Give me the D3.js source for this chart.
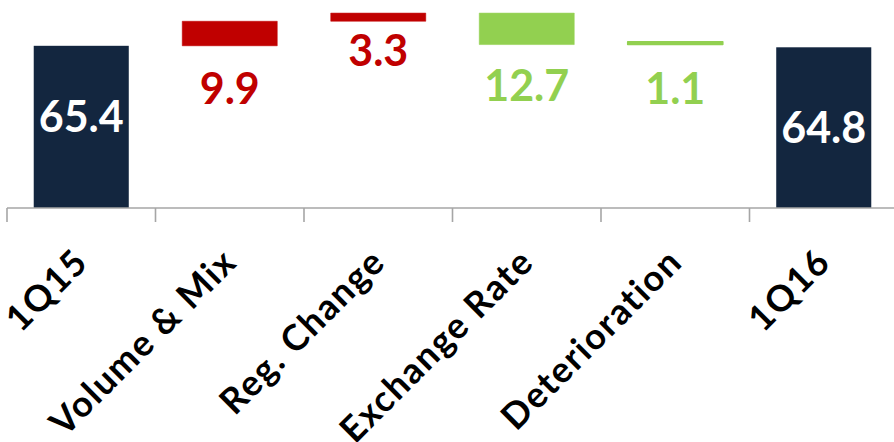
<!DOCTYPE html>
<html>
<head>
<meta charset="utf-8">
<script src="https://cdn.jsdelivr.net/npm/d3@7"></script>
<style>
  html, body { margin: 0; padding: 0; background: #fff; }
  svg { display: block; }
  text { font-family: Lato, "Open Sans", sans-serif; font-weight: 700; }
</style>
</head>
<body>
<svg id="chart" width="894" height="442"></svg>
<script>
// ---- data ----
const categories = ["1Q15", "Volume & Mix", "Reg. Change", "Exchange Rate", "Deterioration", "1Q16"];
const kinds      = ["total", "up", "up", "down", "down", "total"];
const bases      = [0, 65.4, 75.3, 65.9, 65.9, 0];      // invisible stacked base (as in original)
const deltas     = [65.4, 9.9, 3.3, 12.7, 1.1, 64.8];   // visible bar segment
const labels     = ["65.4", "9.9", "3.3", "12.7", "1.1", "64.8"];

// ---- styles ----
const colors = { total: "#13263f", up: "#c00000", down: "#92d050" };
const labelColors = { total: "#ffffff", up: "#c00000", down: "#92d050" };

const svg = d3.select("#chart");
const baseY = 208;

const x = d3.scaleBand().domain(categories).range([7, 898]).paddingInner(0.36).paddingOuter(0.18);
const y = d3.scaleLinear().domain([0, 80]).range([baseY, 9.6]);

// bars
svg.append("g").selectAll("rect").data(categories).join("rect")
  .attr("x", d => x(d))
  .attr("width", x.bandwidth())
  .attr("y", (d, i) => y(bases[i] + deltas[i]))
  .attr("height", (d, i) => y(bases[i]) - y(bases[i] + deltas[i]))
  .attr("fill", (d, i) => colors[kinds[i]])
  .attr("stroke", (d, i) => kinds[i] === "total" ? "none" : colors[kinds[i]])
  .attr("stroke-width", (d, i) => deltas[i] < 2 ? 1.6 : 0.5)
  .attr("stroke-linejoin", "round");

// axis
const step = x.step();
const axis = d3.axisBottom(x).tickSize(14).tickSizeOuter(0).tickFormat("");
const ax = svg.append("g").attr("transform", `translate(0,${baseY})`).call(axis);
ax.select(".domain").attr("stroke", "#a6a6a6").attr("stroke-width", 1.6)
  .attr("d", `M${x.range()[0]},0H${x.range()[1]}`);
ax.selectAll(".tick line").attr("stroke", "#a6a6a6").attr("stroke-width", 1.6)
  .attr("x1", -step / 2).attr("x2", -step / 2).attr("y1", 0);
ax.selectAll(".tick text").remove();

// category labels (rotated)
svg.append("g").selectAll("text").data(categories).join("text")
  .attr("transform", d => `translate(${x(d) + x.bandwidth() / 2 + 9},${baseY + 56}) rotate(-45)`)
  .attr("text-anchor", "end")
  .attr("font-size", 36)
  .attr("letter-spacing", 1.6)
  .attr("fill", "#000")
  .text(d => d);

// value labels
const labelOffset = { total: 0, up: 58, down: 56 };
const labelTweak = [-10, 0, -13, 0, 3, 0];
svg.append("g").selectAll("text").data(categories).join("text")
  .attr("x", d => x(d) + x.bandwidth() / 2)
  .attr("y", (d, i) => {
    if (kinds[i] === "total") return (y(deltas[i]) + baseY) / 2 + 15 + labelTweak[i];
    return y(bases[i]) + labelOffset[kinds[i]] + labelTweak[i];
  })
  .attr("text-anchor", "middle")
  .attr("font-size", 43)
  .attr("fill", (d, i) => labelColors[kinds[i]])
  .text((d, i) => labels[i]);
</script>
</body>
</html>
